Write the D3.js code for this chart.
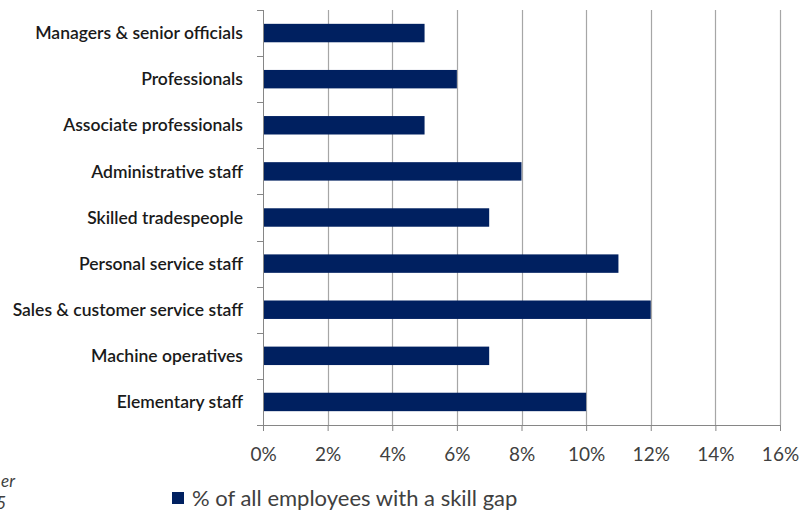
<!DOCTYPE html>
<html>
<head>
<meta charset="utf-8">
<script src="https://cdn.jsdelivr.net/npm/d3@7"></script>
<style>
body{margin:0;background:#fff;}
svg{display:block;}
</style>
</head>
<body>
<div id="chart"></div>
<script>
var categories = ["Managers & senior officials","Professionals","Associate professionals","Administrative staff","Skilled tradespeople","Personal service staff","Sales & customer service staff","Machine operatives","Elementary staff"];
var values = [5,6,5,8,7,11,12,7,10];
var xTicks = [0,2,4,6,8,10,12,14,16];
var seriesName = "% of all employees with a skill gap";

var svgW = 801, svgH = 511;
var margin = {top:10, left:263, right:21, bottom:86};
var chartW = svgW - margin.left - margin.right;
var chartH = svgH - margin.top - margin.bottom;

var svg = d3.select('#chart').append('svg')
    .attr('width', svgW)
    .attr('height', svgH);

var chart = svg.append('g')
    .attr('transform', `translate(${margin.left},${margin.top})`);

var x = d3.scaleLinear().domain([0,16]).range([0,chartW]);
var y = d3.scaleBand().domain(categories).range([0,chartH]).paddingInner(0.6).paddingOuter(0.3);

// gridlines
chart.selectAll('line.grid')
    .data(xTicks.slice(1))
    .enter().append('line')
    .attr('class','grid')
    .attr('x1', d => Math.round(x(d)) + 0.5)
    .attr('x2', d => Math.round(x(d)) + 0.5)
    .attr('y1', 0)
    .attr('y2', chartH)
    .attr('stroke', '#a6a6a6')
    .attr('stroke-width', 1.2);

// bars
chart.selectAll('rect.bar')
    .data(values)
    .enter().append('rect')
    .attr('class','bar')
    .attr('x', 0)
    .attr('y', (d,i) => y(categories[i]))
    .attr('width', d => x(d))
    .attr('height', y.bandwidth())
    .attr('fill', '#002060');

// x axis
var xAxis = chart.append('g')
    .attr('transform', `translate(0,${chartH})`)
    .call(d3.axisBottom(x).tickValues(xTicks).tickSize(6).tickPadding(17).tickFormat(d => d + '%'));
xAxis.select('.domain').attr('stroke', '#868686');
xAxis.selectAll('.tick line').attr('stroke', '#868686');
xAxis.selectAll('text')
    .attr('fill', '#404040')
    .style('font-family', 'Lato, sans-serif')
    .style('font-size', '19px');

// y axis: ticks between categories
var yAxisG = chart.append('g');
yAxisG.append('line')
    .attr('x1', 0.5).attr('x2', 0.5)
    .attr('y1', 0).attr('y2', chartH)
    .attr('stroke', '#868686');
var step = chartH / categories.length;
yAxisG.selectAll('line.yt')
    .data(d3.range(categories.length + 1))
    .enter().append('line')
    .attr('class','yt')
    .attr('x1', -6).attr('x2', 0)
    .attr('y1', d => Math.round(d * step) + 0.5)
    .attr('y2', d => Math.round(d * step) + 0.5)
    .attr('stroke', '#868686');
yAxisG.selectAll('text')
    .data(categories)
    .enter().append('text')
    .attr('x', -20)
    .attr('y', d => y(d) + y.bandwidth() / 2)
    .attr('dy', '0.35em')
    .attr('text-anchor', 'end')
    .attr('fill', '#1a1a1a')
    .style('font-family', 'Lato, sans-serif')
    .style('font-size', '17.5px')
    .style('font-weight', '600')
    .text(d => d);

// legend
var legend = svg.append('g').attr('transform', 'translate(172,492)');
legend.append('rect')
    .attr('width', 12).attr('height', 12)
    .attr('fill', '#002060');
legend.append('text')
    .attr('x', 20).attr('y', 6.5)
    .attr('dy', '0.35em')
    .attr('fill', '#404040')
    .style('font-family', 'Lato, sans-serif')
    .style('font-size', '22px')
    .text(seriesName);

// cut off source note
var note = svg.append('g')
    .attr('fill', '#404040')
    .style('font-family', 'Lato, sans-serif')
    .style('font-size', '17px')
    .style('font-style', 'italic');
note.append('text').attr('x', 15).attr('y', 487).attr('text-anchor', 'end').text('er');
note.append('text').attr('x', 6).attr('y', 509).attr('text-anchor', 'end').text('5');
</script>
</body>
</html>
